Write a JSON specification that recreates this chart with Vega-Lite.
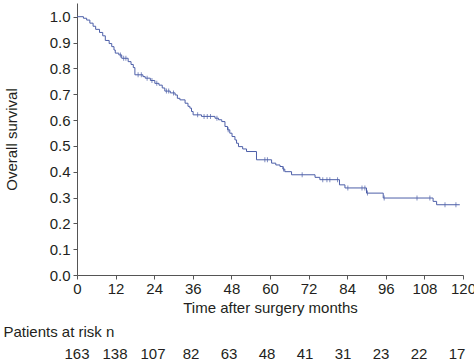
{
  "$schema": "https://vega.github.io/schema/vega-lite/v6.json",
  "padding": {"left": 3, "top": 3, "right": 0, "bottom": 0},
  "background": "white",
  "spacing": 10,
  "config": {
    "view": {"stroke": null},
    "font": "Liberation Sans",
    "axis": {
      "grid": false,
      "domainColor": "#555555",
      "tickColor": "#555555",
      "labelColor": "#231f20",
      "titleColor": "#231f20",
      "labelFontSize": 15,
      "titleFontSize": 15,
      "titleFontWeight": "normal",
      "tickSize": 4,
      "labelFlush": false,
      "labelOverlap": false
    }
  },
  "datasets": {
    "km": [
      {"month": 0, "survival": 1.0},
      {"month": 2, "survival": 0.994},
      {"month": 3, "survival": 0.987},
      {"month": 4, "survival": 0.975},
      {"month": 5, "survival": 0.963},
      {"month": 5.8, "survival": 0.951},
      {"month": 7, "survival": 0.939},
      {"month": 8, "survival": 0.926},
      {"month": 8.8, "survival": 0.908},
      {"month": 10, "survival": 0.896},
      {"month": 10.8, "survival": 0.884},
      {"month": 11.5, "survival": 0.871},
      {"month": 11.9, "survival": 0.859},
      {"month": 13, "survival": 0.852},
      {"month": 13.9, "survival": 0.839},
      {"month": 15.9, "survival": 0.826},
      {"month": 16.8, "survival": 0.815},
      {"month": 17.5, "survival": 0.803},
      {"month": 18, "survival": 0.775},
      {"month": 20.5, "survival": 0.768},
      {"month": 21.2, "survival": 0.762},
      {"month": 22.8, "survival": 0.753},
      {"month": 24.2, "survival": 0.742},
      {"month": 25.5, "survival": 0.735},
      {"month": 26.5, "survival": 0.724},
      {"month": 27.3, "survival": 0.712},
      {"month": 29, "survival": 0.705},
      {"month": 30.5, "survival": 0.697},
      {"month": 31.2, "survival": 0.684},
      {"month": 32, "survival": 0.678},
      {"month": 33.6, "survival": 0.665},
      {"month": 34.5, "survival": 0.653},
      {"month": 35.1, "survival": 0.646},
      {"month": 35.6, "survival": 0.633},
      {"month": 36.1, "survival": 0.62},
      {"month": 38.7, "survival": 0.614},
      {"month": 42.9, "survival": 0.607},
      {"month": 44, "survival": 0.601},
      {"month": 45, "survival": 0.594},
      {"month": 46, "survival": 0.575},
      {"month": 46.8, "survival": 0.562},
      {"month": 47.5, "survival": 0.549},
      {"month": 48.2, "survival": 0.536},
      {"month": 49.1, "survival": 0.523},
      {"month": 49.6, "survival": 0.51},
      {"month": 50.2, "survival": 0.497},
      {"month": 51.5, "survival": 0.488},
      {"month": 52.7, "survival": 0.478},
      {"month": 55.8, "survival": 0.446},
      {"month": 60.5, "survival": 0.433},
      {"month": 61.8, "survival": 0.426},
      {"month": 63.1, "survival": 0.42},
      {"month": 64, "survival": 0.41},
      {"month": 64.6, "survival": 0.4},
      {"month": 66.7, "survival": 0.388},
      {"month": 74, "survival": 0.378},
      {"month": 75.5, "survival": 0.369},
      {"month": 81.6, "survival": 0.349},
      {"month": 83.3, "survival": 0.337},
      {"month": 90, "survival": 0.317},
      {"month": 95.2, "survival": 0.298},
      {"month": 110.7, "survival": 0.285},
      {"month": 111.8, "survival": 0.272},
      {"month": 119, "survival": 0.272}
    ],
    "censor": [
      {"month": 13.5, "survival": 0.852},
      {"month": 14.5, "survival": 0.839},
      {"month": 15.2, "survival": 0.839},
      {"month": 19, "survival": 0.775},
      {"month": 20, "survival": 0.775},
      {"month": 21.8, "survival": 0.762},
      {"month": 23.3, "survival": 0.753},
      {"month": 24.8, "survival": 0.742},
      {"month": 27.8, "survival": 0.712},
      {"month": 28.5, "survival": 0.712},
      {"month": 30, "survival": 0.705},
      {"month": 37.5, "survival": 0.62},
      {"month": 39.5, "survival": 0.614},
      {"month": 40.5, "survival": 0.614},
      {"month": 41.5, "survival": 0.614},
      {"month": 43.5, "survival": 0.607},
      {"month": 47, "survival": 0.562},
      {"month": 58.4, "survival": 0.446},
      {"month": 59.2, "survival": 0.446},
      {"month": 64.2, "survival": 0.41},
      {"month": 70, "survival": 0.388},
      {"month": 76.4, "survival": 0.369},
      {"month": 77.7, "survival": 0.369},
      {"month": 78.6, "survival": 0.369},
      {"month": 81, "survival": 0.369},
      {"month": 84.2, "survival": 0.337},
      {"month": 88.6, "survival": 0.337},
      {"month": 89.5, "survival": 0.337},
      {"month": 90.3, "survival": 0.317},
      {"month": 95.5, "survival": 0.298},
      {"month": 105.7, "survival": 0.298},
      {"month": 109.7, "survival": 0.298},
      {"month": 114.4, "survival": 0.272},
      {"month": 117.8, "survival": 0.272}
    ],
    "risk": [
      {"month": 0, "n": 163},
      {"month": 12, "n": 138},
      {"month": 24, "n": 107},
      {"month": 36, "n": 82},
      {"month": 48, "n": 63},
      {"month": 60, "n": 48},
      {"month": 72, "n": 41},
      {"month": 84, "n": 31},
      {"month": 96, "n": 23},
      {"month": 108, "n": 22},
      {"month": 120, "n": 17}
    ]
  },
  "vconcat": [
    {
      "width": 386,
      "height": 272,
      "layer": [
        {
          "data": {"name": "km"},
          "mark": {"type": "line", "interpolate": "step-after", "color": "#4d5fa8", "strokeWidth": 1},
          "encoding": {
            "x": {
              "field": "month", "type": "quantitative",
              "scale": {"domain": [0, 120], "nice": false, "zero": false},
              "axis": {
                "values": [0, 12, 24, 36, 48, 60, 72, 84, 96, 108, 120],
                "tickCount": 20,
                "title": "Time after surgery months",
                "labelPadding": 2,
                "titlePadding": 4,
                "labelOverlap": false,
                "labelFlush": false
              }
            },
            "y": {
              "field": "survival", "type": "quantitative",
              "scale": {"domain": [0, 1.053], "nice": false},
              "axis": {
                "values": [0, 0.1, 0.2, 0.3, 0.4, 0.5, 0.6, 0.7, 0.8, 0.9, 1.0],
                "tickCount": 20,
                "format": ".1f",
                "title": "Overall survival",
                "labelPadding": 3,
                "titlePadding": 30,
                "labelOverlap": false,
                "labelFlush": false
              }
            }
          }
        },
        {
          "data": {"name": "censor"},
          "mark": {"type": "tick", "orient": "vertical", "size": 5, "thickness": 1, "color": "#4d5fa8"},
          "encoding": {
            "x": {"field": "month", "type": "quantitative"},
            "y": {"field": "survival", "type": "quantitative"}
          }
        }
      ]
    },
    {
      "width": 380,
      "height": 20,
      "data": {"name": "risk"},
      "title": {
        "text": "Patients at risk n",
        "anchor": "start",
        "dx": -61,
        "fontSize": 15,
        "fontWeight": "normal",
        "color": "#231f20",
        "offset": 4
      },
      "mark": {"type": "text", "fontSize": 15, "color": "#231f20", "baseline": "middle"},
      "encoding": {
        "x": {
          "field": "month", "type": "quantitative",
          "scale": {"domain": [0, 120], "nice": false, "zero": false},
          "axis": null
        },
        "text": {"field": "n", "type": "quantitative"}
      }
    }
  ]
}
